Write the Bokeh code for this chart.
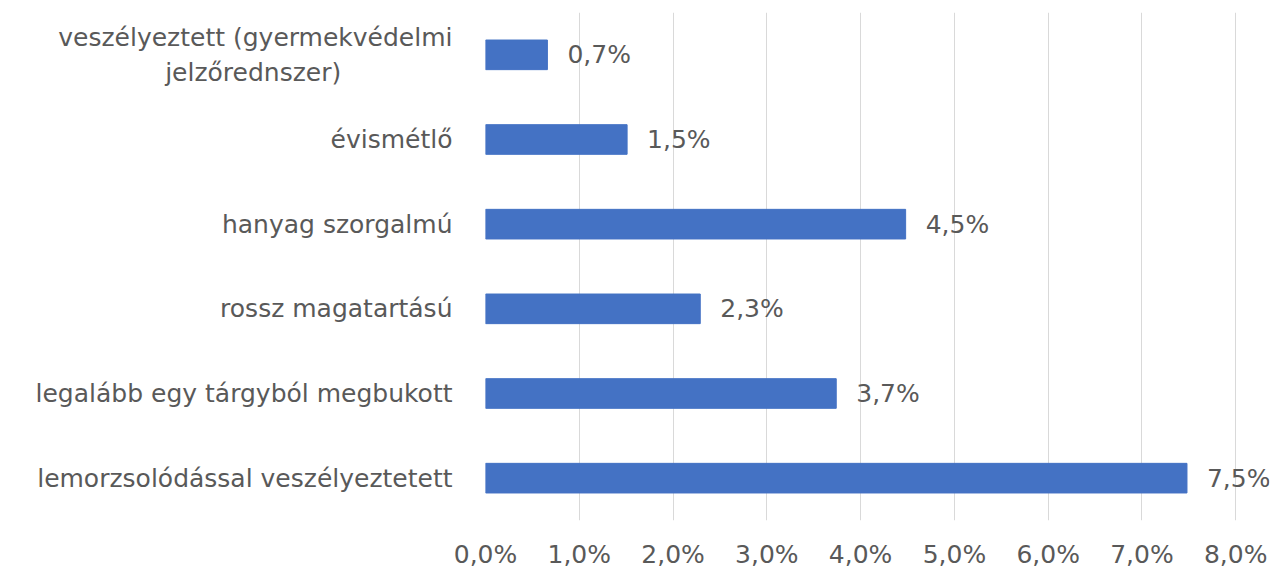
from bokeh.plotting import figure
from bokeh.models import ColumnDataSource, FixedTicker, LabelSet, Range1d, FactorRange
from bokeh.core.properties import value
from bokeh.embed import file_html
from bokeh.resources import INLINE

categories = [
    "lemorzsolódással veszélyeztetett",
    "legalább egy tárgyból megbukott",
    "rossz magatartású",
    "hanyag szorgalmú",
    "évismétlő",
    "veszélyeztett (gyermekvédelmi\njelzőrednszer)" + "\u00a0" * 14,
]
values = [7.48, 3.74, 2.29, 4.48, 1.51, 0.66]
tick_values = [0, 1, 2, 3, 4, 5, 6, 7, 8]
tick_labels = ["0,0%", "1,0%", "2,0%", "3,0%", "4,0%", "5,0%", "6,0%", "7,0%", "8,0%"]

value_labels = [f"{v:.1f}".replace(".", ",") + "%" for v in values]

FONT = "DejaVu Sans"
FS = "25px"
TXT = "#595959"

source = ColumnDataSource(dict(cat=categories, val=values, lab=value_labels))

p = figure(
    width=1272, height=575,
    y_range=FactorRange(*categories, range_padding=0),
    x_range=Range1d(0, 8.36),
    output_backend="svg", toolbar_location=None,
    min_border_left=485, min_border_right=3, min_border_top=12, min_border_bottom=55,
)
p.hbar(y="cat", right="val", height=0.35, source=source, color="#4472C4")

labels = LabelSet(x="val", y="cat", text="lab", source=source, x_offset=20,
                  text_baseline="middle", text_font=value(FONT), text_font_size=value(FS),
                  text_color=TXT)
p.add_layout(labels)

p.outline_line_color = None
p.ygrid.grid_line_color = None
p.xgrid.grid_line_color = "#D9D9D9"
p.xgrid.grid_line_width = 1
p.xaxis.ticker = FixedTicker(ticks=tick_values)
p.xaxis.major_label_overrides = {t: l for t, l in zip(tick_values, tick_labels)}
p.xaxis.axis_line_color = None
p.xaxis.major_tick_line_color = None
p.xaxis.minor_tick_line_color = None
p.xaxis.major_label_text_font = FONT
p.xaxis.major_label_text_font_size = FS
p.xaxis.major_label_text_color = TXT
p.xaxis.major_label_standoff = 13

p.yaxis.axis_line_color = None
p.yaxis.major_tick_line_color = None
p.yaxis.minor_tick_line_color = None
p.yaxis.major_label_text_font = FONT
p.yaxis.major_label_text_font_size = FS
p.yaxis.major_label_text_color = TXT
p.yaxis.major_label_standoff = 27

open("out.html", "w").write(file_html(p, INLINE))
